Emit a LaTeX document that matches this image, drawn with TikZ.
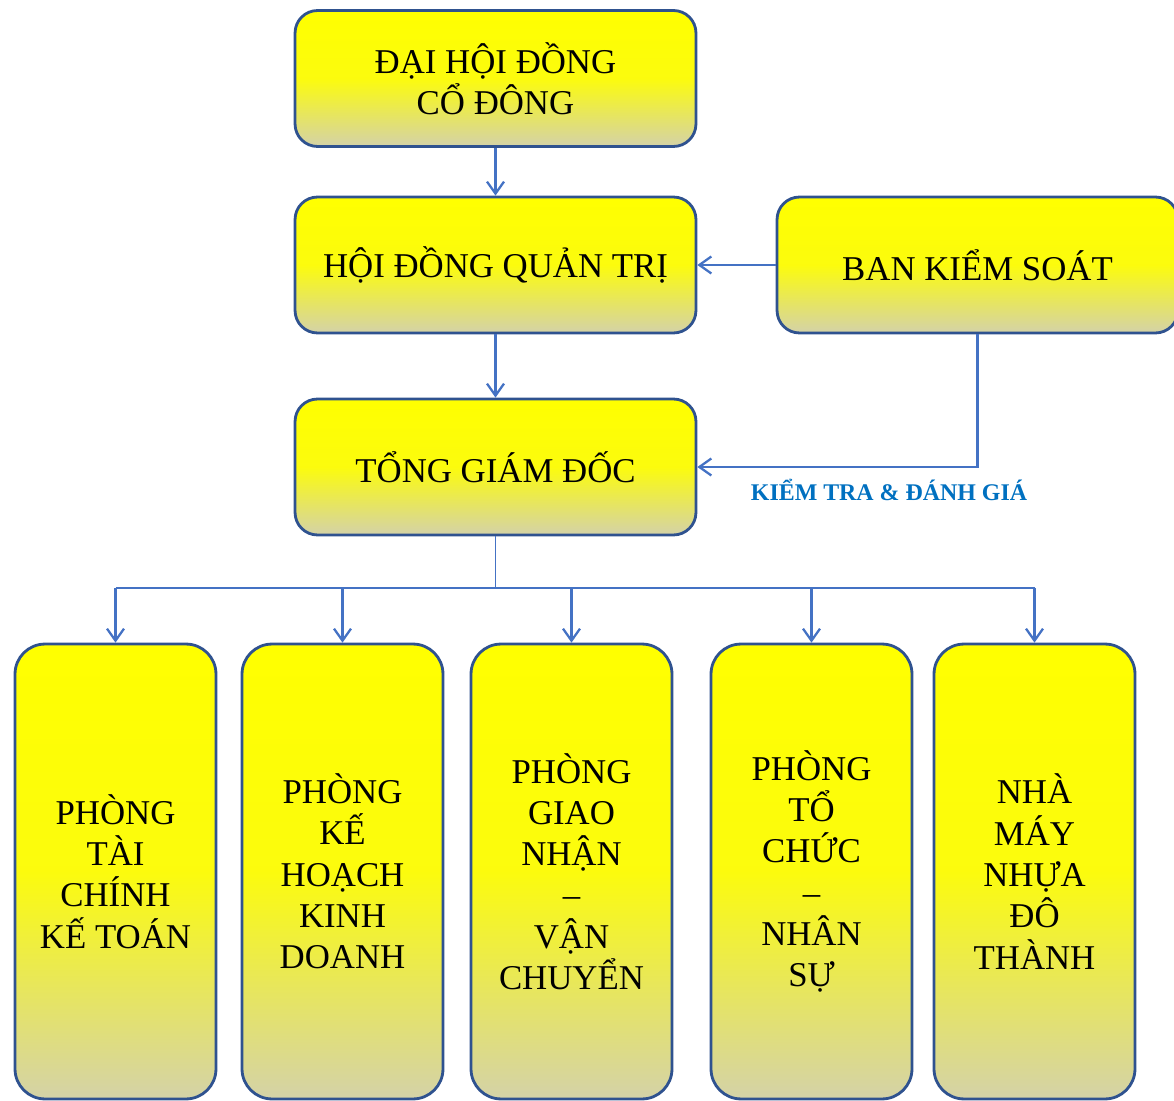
\documentclass[tikz,border=0pt]{standalone}
\usepackage{fontspec}
\setmainfont{Liberation Serif}
\usetikzlibrary{arrows.meta}

\definecolor{orgBorder}{RGB}{47,82,143}
\definecolor{orgArrow}{RGB}{68,114,196}
\definecolor{orgFade}{RGB}{212,210,168}
\definecolor{orgLabel}{RGB}{0,112,192}

\begin{document}
\begin{tikzpicture}[x=0.02cm, y=-0.02cm, font=\fontsize{19.8}{23.5}\selectfont,
   box/.style={draw=orgBorder, line width=1.6pt, rounded corners=0.45cm,
             top color=yellow, bottom color=orgFade, middle color=yellow!92!orgFade,
             align=center, minimum width=8.02cm, minimum height=2.72cm},
   dept/.style={box, rounded corners=0.6cm, minimum width=4.02cm, minimum height=9.1cm},
   link/.style={draw=orgArrow, line width=1.3pt, -{Straight Barb[length=0.24cm, width=0.34cm]}},
   bus/.style={draw=orgArrow, line width=0.8pt},
   note/.style={text=orgLabel, font=\fontsize{13.6}{16}\selectfont\bfseries}]

  \useasboundingbox (0,0) rectangle (1174,1101);

  % ===== Cap lanh dao =====
  \node[box] (dhdcd) at (495.5,78.5) {ĐẠI HỘI ĐỒNG\\ CỔ ĐÔNG};
  \node[box] (hdqt) at (495.5,265) {HỘI ĐỒNG QUẢN TRỊ};
  \node[box] (bks) at (977.5,265) {BAN KIỂM SOÁT};
  \node[box] (tgd) at (495.5,467) {TỔNG GIÁM ĐỐC};
  \node[note] (ktdg) at (889,490) {KIỂM TRA \& ĐÁNH GIÁ};

  \draw[link] (dhdcd) -- (hdqt);
  \draw[link] (bks) -- (hdqt);
  \draw[link] (hdqt) -- (tgd);
  \draw[link] (bks.south) |- (tgd.east);

  % ===== Cac phong ban =====
  \node[dept] (ptckt) at (115.5,871.5) {PHÒNG\\ TÀI\\ CHÍNH\\ KẾ TOÁN};
  \node[dept] (pkhkd) at (342.5,871.5) {PHÒNG\\ KẾ\\ HOẠCH\\ KINH\\ DOANH};
  \node[dept] (pgnvc) at (571.5,871.5) {PHÒNG\\ GIAO\\ NHẬN\\ –\\ VẬN\\ CHUYỂN};
  \node[dept] (ptcns) at (811.5,871.5) {PHÒNG\\ TỔ\\ CHỨC\\ –\\ NHÂN\\ SỰ};
  \node[dept] (nmndt) at (1034.5,871.5) {NHÀ\\ MÁY\\ NHỰA\\ ĐÔ\\ THÀNH};

  % thanh phan nhanh
  \coordinate (split) at (495.5,588);
  \draw[bus] (tgd.south) -- (split);
  \draw[bus] (ptckt.north |- split) -- (nmndt.north |- split);
  \draw[link] (ptckt.north |- split) -- (ptckt.north);
  \draw[link] (pkhkd.north |- split) -- (pkhkd.north);
  \draw[link] (pgnvc.north |- split) -- (pgnvc.north);
  \draw[link] (ptcns.north |- split) -- (ptcns.north);
  \draw[link] (nmndt.north |- split) -- (nmndt.north);

\end{tikzpicture}
\end{document}
